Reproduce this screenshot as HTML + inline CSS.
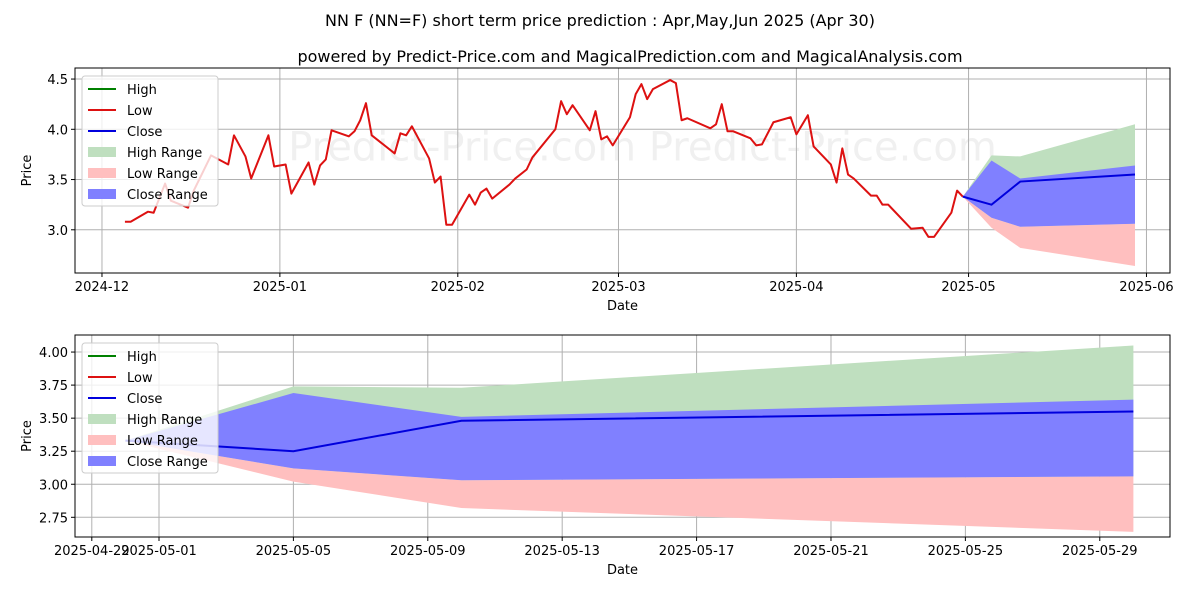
<!DOCTYPE html>
<html><head><meta charset="utf-8"><style>
body{margin:0;background:#fff;font-family:"Liberation Sans","DejaVu Sans",sans-serif}
svg text{font-family:"DejaVu Sans","Liberation Sans",sans-serif}
</style></head><body>
<svg id="c" width="1200" height="600" xmlns="http://www.w3.org/2000/svg"></svg>
<script>
const histDays=[4,5,8,9,11,12,15,16,19,22,23,25,26,29,30,32,33,36,37,38,39,40,43,44,45,46,47,51,52,53,54,57,58,59,60,61,64,65,66,67,68,71,72,74,75,79,80,81,82,85,86,87,88,89,92,93,94,95,96,99,100,101,102,106,107,108,109,110,113,114,115,117,120,121,123,124,127,128,129,130,131,134,135,136,137,141,143,144,145,148,149,150];
const histLow=[3.08,3.08,3.18,3.17,3.46,3.29,3.22,3.39,3.74,3.65,3.94,3.73,3.51,3.94,3.63,3.65,3.36,3.67,3.45,3.64,3.70,3.99,3.93,3.98,4.09,4.26,3.94,3.76,3.96,3.94,4.03,3.71,3.47,3.53,3.05,3.05,3.35,3.25,3.37,3.41,3.31,3.45,3.51,3.60,3.72,4.00,4.28,4.15,4.24,3.99,4.18,3.90,3.93,3.84,4.12,4.35,4.45,4.30,4.40,4.49,4.46,4.09,4.11,4.01,4.05,4.25,3.98,3.98,3.91,3.84,3.85,4.07,4.12,3.95,4.14,3.83,3.65,3.47,3.81,3.55,3.51,3.34,3.34,3.25,3.25,3.01,3.02,2.93,2.93,3.17,3.39,3.33];
const predDays=[150,155,160,180];
const predClose=[3.33,3.25,3.48,3.55];
const highTop=[3.33,3.74,3.73,4.05];
const closeTop=[3.33,3.69,3.51,3.64];
const closeBot=[3.33,3.12,3.03,3.06];
const lowBot=[3.33,3.02,2.82,2.64];
const topTicksY=[3.0,3.5,4.0,4.5];
const topTicksX=[[0,"2024-12"],[31,"2025-01"],[62,"2025-02"],[90,"2025-03"],[121,"2025-04"],[151,"2025-05"],[182,"2025-06"]];
const botTicksY=[2.75,3.00,3.25,3.50,3.75,4.00];
const botTicksX=[[149,"2025-04-29"],[151,"2025-05-01"],[155,"2025-05-05"],[159,"2025-05-09"],[163,"2025-05-13"],[167,"2025-05-17"],[171,"2025-05-21"],[175,"2025-05-25"],[179,"2025-05-29"]];

const svg=document.getElementById('c');const NS="http://www.w3.org/2000/svg";
function el(t,a,p){const e=document.createElementNS(NS,t);for(const k in a)e.setAttribute(k,a[k]);(p||svg).appendChild(e);return e;}
function txt(x,y,s,size,anchor,p){const t=el('text',{x:x,y:y,'font-size':size,'text-anchor':anchor||'middle',fill:'#000'},p);t.textContent=s;return t;}

function panel(name,L,T,R,B,d0,d1,v0,v1,tx,ty,fmt,full){
  const g=el('g',{});
  
  
  const X=d=>L+(d-d0)/(d1-d0)*(R-L), Y=v=>B-(v-v0)/(v1-v0)*(B-T);
  const cp=el('clipPath',{id:'cp'+name},g);el('rect',{x:L,y:T,width:R-L,height:B-T},cp);
  const wm=txt((L+R)/2+20,T+(B-T)*0.45,"Predict-Price.com    Predict-Price.com",40,'middle',g);wm.setAttribute('fill','#f0f0f0');
  
  
  tx.forEach(([d,l])=>{const x=X(d);el('line',{x1:x,x2:x,y1:T,y2:B,stroke:'#b0b0b0','stroke-width':1},g);el('line',{x1:x,x2:x,y1:B,y2:B+4,stroke:'#000'},g);const t=txt(x,B+18,l,13,'middle',g);});
  ty.forEach(v=>{const y=Y(v);el('line',{x1:L,x2:R,y1:y,y2:y,stroke:'#b0b0b0','stroke-width':1},g);el('line',{x1:L-4,x2:L,y1:y,y2:y,stroke:'#000'},g);const t=txt(L-7,y+5,fmt(v),13,'end',g);});
  const cg=el('g',{'clip-path':'url(#cp'+name+')'},g);
  function band(lo,hi,col,nm){let p=predDays.map((d,i)=>X(d)+','+Y(hi[i])).join(' ')+' '+predDays.map((d,i)=>X(d)+','+Y(lo[i])).reverse().join(' ');const e=el('polygon',{points:p,fill:col},cg);}
  band(closeBot,highTop,'#bfdfbf','high-range-band');
  band(lowBot,closeBot,'#ffbfbf','low-range-band');
  band(closeBot,closeTop,'#8080ff','close-range-band');
  if(full){const l=el('polyline',{points:histDays.map((d,i)=>X(d)+','+Y(histLow[i])).join(' '),fill:'none',stroke:'#dd1111','stroke-width':2,'stroke-linejoin':'round'},cg);}
  const c=el('polyline',{points:predDays.map((d,i)=>X(d)+','+Y(predClose[i])).join(' '),fill:'none',stroke:'#0000dd','stroke-width':2},cg);
  
  el('rect',{x:L,y:T,width:R-L,height:B-T,fill:'none',stroke:'#000','stroke-width':1},g);
  txt((L+R)/2,B+37,'Date',13,'middle',g);
  const yt=txt(0,0,'Price',13,'middle',g);yt.setAttribute('transform','translate('+(L-44)+','+((T+B)/2)+') rotate(-90)');
  
  const lg=el('g',{},g);
  
  
  const lx=L+7,ly=T+8;
  el('rect',{x:lx,y:ly,width:136,height:130,rx:3,fill:'rgba(255,255,255,0.8)',stroke:'#cccccc'},lg);
  const items=[['High','line','green'],['Low','line','#dd1111'],['Close','line','#0000dd'],['High Range','box','#bfdfbf'],['Low Range','box','#ffbfbf'],['Close Range','box','#8080ff']];
  items.forEach((it,i)=>{const y=ly+13+i*21;
    if(it[1]=='line')el('line',{x1:lx+6,x2:lx+34,y1:y,y2:y,stroke:it[2],'stroke-width':2},lg);else el('rect',{x:lx+6,y:y-5,width:28,height:10,fill:it[2]},lg);
    const t=txt(lx+45,y+5,it[0],13,'start',lg);});
}
const t1=txt(600,26,'NN F (NN=F) short term price prediction : Apr,May,Jun 2025 (Apr 30)',16);

const t2=txt(630,62,'powered by Predict-Price.com and MagicalPrediction.com and MagicalAnalysis.com',16);

panel('top-panel',75,68,1170,273,-4.7,186.1,2.57,4.61,topTicksX,topTicksY,v=>v.toFixed(1),true);
panel('bottom-panel',75,335,1170,537,148.5,181.09,2.601,4.129,botTicksX,botTicksY,v=>v.toFixed(2),false);
</script>
</body></html>
